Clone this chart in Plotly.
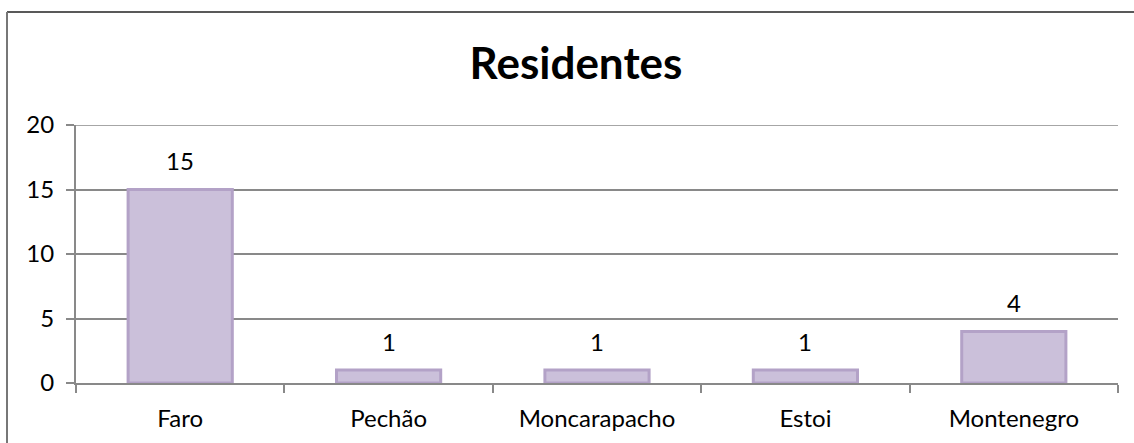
import plotly.graph_objects as go

categories = ["Faro", "Pechão", "Moncarapacho", "Estoi", "Montenegro"]
values = [15, 1, 1, 1, 4]
y_ticks = [0, 5, 10, 15, 20]
title_text = "Residentes"

FONT = "Lato"
W, H = 1134, 443
L, R, T, B = 76, 16, 125, 60
pw, ph = W - L - R, H - T - B

fig = go.Figure(go.Bar(
    x=categories, y=values,
    marker=dict(color="#CBC0DA", line=dict(color="#B3A2C7", width=3)),
    width=0.5,
))
for c, v in zip(categories, values):
    fig.add_annotation(x=c, y=v, text=str(v), showarrow=False, yanchor="middle",
                       yshift=29, font=dict(family=FONT, size=24, color="#000000"))

fig.update_layout(
    width=W, height=H,
    margin=dict(l=L, r=R, t=T, b=B),
    paper_bgcolor="white", plot_bgcolor="white",
    showlegend=False,
    title=dict(text="<b>%s</b>" % title_text, x=576 / W, xanchor="center",
               y=1 - 64 / H, yanchor="middle",
               font=dict(family=FONT, size=44, color="#000000")),
    font=dict(family=FONT, size=24, color="#000000"),
)
fig.update_xaxes(
    type="category", tickson="boundaries", ticks="outside", ticklen=8,
    tickcolor="#898989", tickwidth=2, showline=True, linecolor="#898989",
    linewidth=2, showgrid=False, tickfont=dict(family=FONT, size=24),
    ticklabelstandoff=13,
)
fig.update_yaxes(
    range=[0, y_ticks[-1]], tickvals=y_ticks, ticks="outside", ticklen=8,
    tickcolor="#898989", tickwidth=2, showline=True, linecolor="#898989",
    linewidth=2, showgrid=True, gridcolor="#898989", gridwidth=1.5,
    zeroline=False, tickfont=dict(family=FONT, size=24),
    ticklabelstandoff=7,
)
# top gridline at max tick
fig.add_shape(type="line", xref="paper", yref="y", x0=0, x1=1,
              y0=y_ticks[-1], y1=y_ticks[-1],
              line=dict(color="#898989", width=1.5), layer="below")
# outer chart border (top and left edges visible in the reference)
top_y = (H - B - 12) / ph
left_x = (7 - L) / pw
fig.add_shape(type="line", xref="paper", yref="paper",
              x0=left_x, x1=(W + 10 - L) / pw, y0=top_y, y1=top_y,
              line=dict(color="#222222", width=1.5))
fig.add_shape(type="line", xref="paper", yref="paper",
              x0=left_x, x1=left_x, y0=top_y, y1=-(B + 10) / ph,
              line=dict(color="#777777", width=2))
fig.write_html(
    "out.html",
    config={"displayModeBar": False},
    post_script="document.body.style.margin='0';document.body.style.overflow='hidden';",
)
